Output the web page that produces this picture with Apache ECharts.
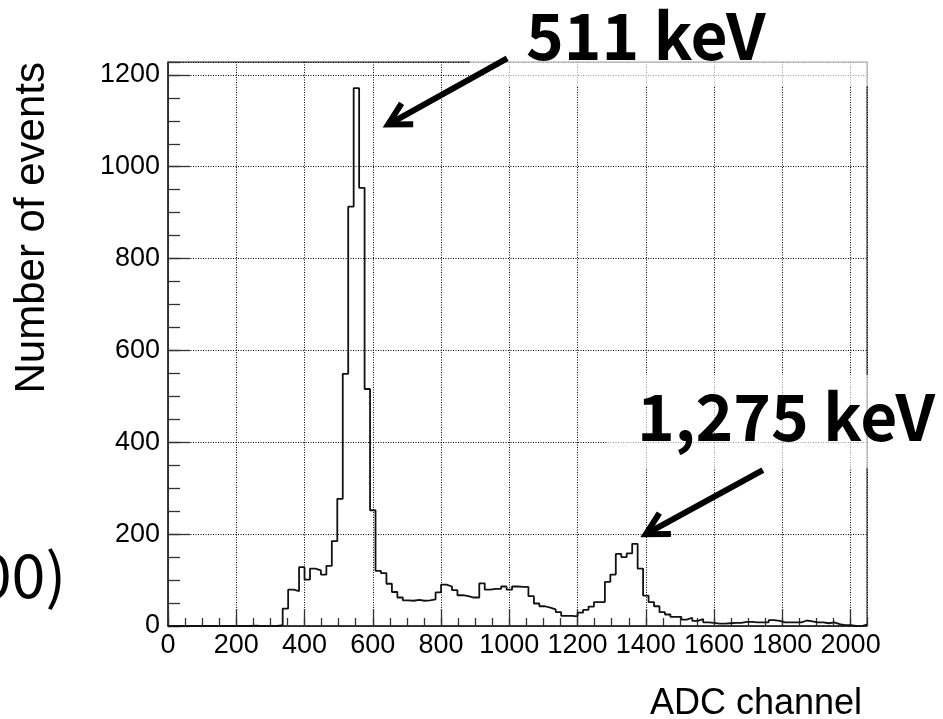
<!DOCTYPE html>
<html>
<head>
<meta charset="utf-8">
<script src="https://cdn.jsdelivr.net/npm/echarts@6/dist/echarts.min.js"></script>
<style>
  html, body { margin: 0; padding: 0; background: #fff; }
  #chart { width: 943px; height: 719px; }
</style>
</head>
<body>
<div id="chart"></div>
<script>
// ADC spectrum: 128 bins of 16 channels each, 0 .. 2048
const BIN_WIDTH = 16;
const X_MIN = 0;
const X_MAX = 2048;
const Y_MIN = 0;
const Y_MAX = 1228;

const counts = [
  0, 0, 0, 0, 0, 0, 0, 0, 0, 0, 0, 0, 0, 0, 0, 1,
  0, 0, 0, 0, 2, 38, 79, 76, 128, 101, 125, 121, 112, 131, 185, 277,
  549, 913, 1171, 954, 516, 252, 120, 115, 92, 74, 62, 56, 55, 57, 55, 56,
  58, 73, 90, 86, 78, 67, 65, 62, 62, 93, 79, 81, 81, 86, 79, 86,
  85, 85, 65, 49, 43, 40, 36, 30, 22, 22, 21, 29, 35, 42, 52, 52,
  96, 112, 157, 150, 158, 179, 125, 66, 52, 43, 30, 25, 20, 20, 14, 18,
  11, 15, 8, 7, 5, 5, 6, 7, 7, 9, 9, 8, 8, 8, 13, 11,
  8, 8, 8, 8, 12, 10, 8, 8, 6, 8, 4, 2, 2, 0, 0, 3
];

const xMajorStep = 200;
const xMinorStep = 50;
const yMajorStep = 200;
const yMinorStep = 50;

const xTitle = 'ADC channel';
const yTitle = 'Number of events';
const peakLabels = ['511 keV', '1,275 keV'];
const peakArrowTips = [[645, 1092], [1400, 200]];   // [channel, events]
const sideText = '00)';

// step outline: one point per bin low edge, plus the upper edge of the last bin
const histPoints = counts.map((c, i) => [X_MIN + i * BIN_WIDTH, c]);
histPoints.push([X_MIN + counts.length * BIN_WIDTH, counts[counts.length - 1]]);

const labelFont = 'Liberation Sans, Arial, Helvetica, sans-serif';
const jpFont = '"Noto Sans CJK JP", "Noto Sans", sans-serif';

const chart = echarts.init(document.getElementById('chart'), null, { renderer: 'canvas' });

const majorAxisCommon = {
  type: 'value',
  axisLabel: {
    color: '#000', fontFamily: labelFont, fontSize: 27,
    showMaxLabel: false,
    formatter: v => String(v)
  },
  splitLine: { show: true, lineStyle: { color: '#000', width: 1, type: [1, 1.5] } }
};

chart.setOption({
  animation: false,
  backgroundColor: '#fff',
  grid: {
    left: 168, top: 62, right: 76, bottom: 93,
    show: true, borderColor: '#111', borderWidth: 1, backgroundColor: 'transparent',
    containLabel: false
  },
  xAxis: [
    Object.assign({}, majorAxisCommon, {
      min: X_MIN, max: X_MAX, interval: xMajorStep, position: 'bottom',
      axisLine: { show: true, onZero: false, lineStyle: { color: '#222', width: 1.5 } },
      axisTick: { show: true, inside: true, length: 17, lineStyle: { color: '#333', width: 1.3 } },
      axisLabel: Object.assign({}, majorAxisCommon.axisLabel, { margin: 6 })
    }),
    {
      type: 'value', min: X_MIN, max: X_MAX, interval: xMinorStep, position: 'bottom',
      axisLine: { show: false },
      axisTick: { show: true, inside: true, length: 8, lineStyle: { color: '#333', width: 1.3 } },
      axisLabel: { show: false },
      splitLine: { show: false }
    }
  ],
  yAxis: [
    Object.assign({}, majorAxisCommon, {
      min: Y_MIN, max: Y_MAX, interval: yMajorStep, position: 'left',
      axisLine: { show: true, onZero: false, lineStyle: { color: '#222', width: 1.5 } },
      axisTick: { show: true, inside: true, length: 22, lineStyle: { color: '#333', width: 1.3 } },
      axisLabel: Object.assign({}, majorAxisCommon.axisLabel, { margin: 8 })
    }),
    {
      type: 'value', min: Y_MIN, max: Y_MAX, interval: yMinorStep, position: 'left',
      axisLine: { show: false },
      axisTick: { show: true, inside: true, length: 12, lineStyle: { color: '#333', width: 1.3 } },
      axisLabel: { show: false },
      splitLine: { show: false }
    }
  ],
  series: [{
    type: 'line',
    xAxisIndex: 0, yAxisIndex: 0,
    step: 'end',
    data: histPoints,
    symbol: 'none',
    lineStyle: { color: '#111', width: 1.8 },
    z: 5
  }]
});

// annotation arrows pointing at the two peaks
function arrowElements(tip, dx, dy) {
  const tail = [tip[0] + dx, tip[1] + dy];
  const len = Math.hypot(dx, dy);
  const ux = dx / len, uy = dy / len;      // unit vector tip -> tail
  const px = -uy, py = ux;                // perpendicular
  const headLen = 22, headHalf = 12;
  const base = [tip[0] + ux * headLen, tip[1] + uy * headLen];
  return [
    {
      type: 'line', z: 120,
      shape: { x1: tail[0], y1: tail[1], x2: tip[0] + ux * 3, y2: tip[1] + uy * 3 },
      style: { stroke: '#000', lineWidth: 6, lineCap: 'butt' }
    },
    {
      type: 'polyline', z: 121,
      shape: { points: [
        [base[0] + px * headHalf, base[1] + py * headHalf],
        [tip[0], tip[1]],
        [base[0] - px * headHalf, base[1] - py * headHalf]
      ] },
      style: { stroke: '#000', lineWidth: 6, lineJoin: 'miter', miterLimit: 10, fill: null }
    }
  ];
}

const tip511 = chart.convertToPixel({ xAxisIndex: 0, yAxisIndex: 0 }, peakArrowTips[0]);
const tip1275 = chart.convertToPixel({ xAxisIndex: 0, yAxisIndex: 0 }, peakArrowTips[1]);

chart.setOption({
  graphic: [
    // translucent backing behind the peak labels
    { type: 'rect', z: 100, shape: { x: 470, y: 0, width: 473, height: 86 },
      style: { fill: 'rgba(255,255,255,0.62)' } },
    { type: 'rect', z: 100, shape: { x: 607, y: 375, width: 336, height: 93 },
      style: { fill: 'rgba(255,255,255,0.62)' } },
    { type: 'text', z: 110, x: 526, y: 36,
      style: { text: peakLabels[0], fill: '#000', font: 'bold 64px ' + jpFont,
               textAlign: 'left', textVerticalAlign: 'middle' } },
    { type: 'text', z: 110, x: 637, y: 417,
      style: { text: peakLabels[1], fill: '#000', font: 'bold 64px ' + jpFont,
               textAlign: 'left', textVerticalAlign: 'middle' } },
    ...arrowElements(tip511, 119, -66),
    ...arrowElements(tip1275, 117, -64),
    // axis titles
    { type: 'text', z: 110, x: 53, y: 62, rotation: Math.PI / 2,
      style: { text: yTitle, fill: '#000', font: '42px ' + labelFont,
               textAlign: 'right', textVerticalAlign: 'bottom' } },
    { type: 'text', z: 110, x: 862, y: 704,
      style: { text: xTitle, fill: '#000', font: '36px ' + labelFont,
               textAlign: 'right', textVerticalAlign: 'middle' } },
    // text running in from the left edge
    { type: 'text', z: 110, x: 66, y: 575,
      style: { text: sideText, fill: '#000', font: '61px ' + jpFont,
               textAlign: 'right', textVerticalAlign: 'middle' } }
  ]
});
</script>
</body>
</html>
